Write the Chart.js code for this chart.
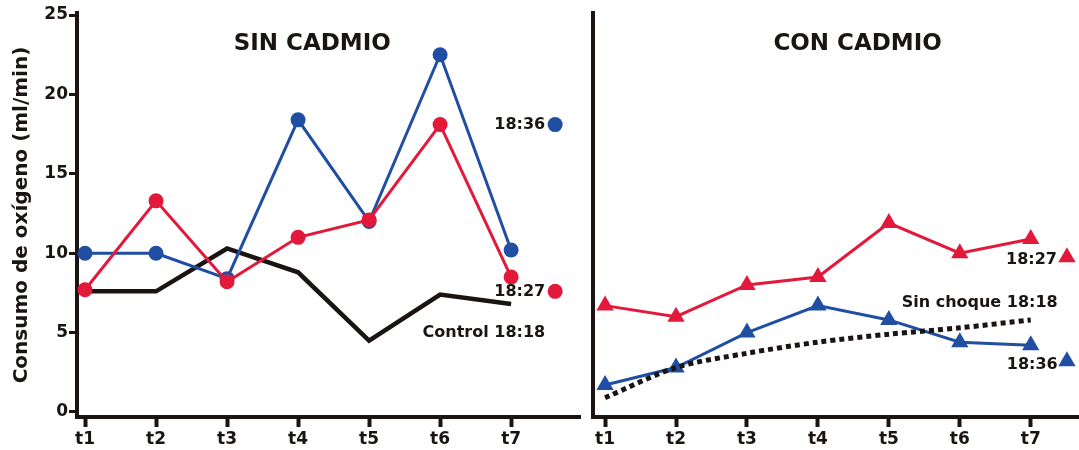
<!DOCTYPE html>
<html>
<head>
<meta charset="utf-8">
<script src="https://cdn.jsdelivr.net/npm/chart.js@4.4.1/dist/chart.umd.min.js"></script>
<style>
  html, body { margin: 0; padding: 0; background: #fff; overflow: hidden; }
  #wrap { position: relative; width: 1079px; height: 450px; overflow: hidden; }
  #izq { position: absolute; left: 0; top: 0; }
  #der { position: absolute; left: 560px; top: 0; }
</style>
</head>
<body>
<div id="wrap">
  <canvas id="izq" width="590" height="450"></canvas>
  <canvas id="der" width="529" height="450"></canvas>
</div>
<script>
// datos
const tiempos = ["t1", "t2", "t3", "t4", "t5", "t6", "t7"];
const yTicks = [0, 5, 10, 15, 20, 25];

// SIN CADMIO
const sinAzul = [10, 10, 8.4, 18.4, 12.0, 22.5, 10.2];   // 18:36
const sinRojo = [7.7, 13.3, 8.2, 11.0, 12.1, 18.1, 8.5]; // 18:27
const control = [7.6, 7.6, 10.3, 8.8, 4.5, 7.4, 6.8];    // Control 18:18

// CON CADMIO
const conRojo = [6.7, 6.0, 8.0, 8.5, 11.9, 10.0, 10.9];  // 18:27
const conAzul = [1.7, 2.8, 5.0, 6.7, 5.8, 4.4, 4.2];     // 18:36
const sinChoque = [0.9, 2.8, 3.7, 4.4, 4.9, 5.3, 5.8];   // Sin choque 18:18

const AZUL = "#1f4ea3";
const ROJO = "#e3193b";
const NEGRO = "#1a1512";
const FUENTE = "'DejaVu Sans', Verdana, sans-serif";

function puntos(arr) {
  return arr.map((v, i) => ({ x: i + 1, y: v }));
}

// plugin simple para los textos dentro del grafico
const notas = {
  id: "notas",
  afterDatasetsDraw(chart, args, opts) {
    const ctx = chart.ctx;
    const sx = chart.scales.x, sy = chart.scales.y;
    ctx.save();
    (opts.items || []).forEach((it) => {
      ctx.font = "bold " + it.size + "px " + FUENTE;
      ctx.fillStyle = NEGRO;
      ctx.textAlign = it.align || "center";
      ctx.textBaseline = "middle";
      ctx.fillText(it.text, sx.getPixelForValue(it.x), sy.getPixelForValue(it.y));
    });
    ctx.restore();
  },
};

function escalas(conEjeY) {
  return {
    x: {
      type: "linear",
      min: conEjeY ? 0.887 : 0.83,
      max: conEjeY ? 7.97 : 7.68,
      afterBuildTicks: (s) => { s.ticks = tiempos.map((t, i) => ({ value: i + 1 })); },
      afterFit: (s) => { s.height = 33; },
      ticks: {
        callback: (v) => tiempos[v - 1],
        color: NEGRO,
        font: { family: FUENTE, size: 17, weight: "bold" },
        padding: 2,
        maxRotation: 0,
      },
      grid: { display: true, drawOnChartArea: false, drawTicks: true, tickLength: 10, tickWidth: 4, tickColor: NEGRO },
      border: { display: true, width: 4, color: NEGRO },
    },
    y: {
      min: -0.315,
      max: 25.13,
      afterBuildTicks: (s) => { s.ticks = conEjeY ? yTicks.map((v) => ({ value: v })) : []; },
      afterFit: (s) => { s.width = conEjeY ? 77 : 33; },
      title: {
        display: conEjeY,
        text: "Consumo de oxígeno (ml/min)",
        color: NEGRO,
        font: { family: FUENTE, size: 20, weight: "bold" },
        padding: { top: 10, bottom: 0 },
      },
      ticks: {
        display: conEjeY,
        color: NEGRO,
        font: { family: FUENTE, size: 17, weight: "bold" },
        padding: 1,
      },
      grid: { display: conEjeY, drawOnChartArea: false, drawTicks: true, tickLength: 8, tickWidth: 3, tickColor: NEGRO },
      border: { display: true, width: 4, color: NEGRO },
    },
  };
}

const basePlugins = {
  legend: { display: false },
  tooltip: { enabled: false },
};

// el primer dataset se dibuja encima
new Chart(document.getElementById("izq"), {
  type: "line",
  data: {
    datasets: [
      { data: puntos(sinRojo), borderColor: ROJO, backgroundColor: ROJO, borderWidth: 3, pointRadius: 7.5, pointBorderWidth: 0 },
      { data: puntos(sinAzul), borderColor: AZUL, backgroundColor: AZUL, borderWidth: 3, pointRadius: 7.5, pointBorderWidth: 0 },
      { data: puntos(control), borderColor: NEGRO, borderWidth: 4.5, pointRadius: 0, tension: 0 },
      // marcadores de la leyenda
      { data: [{ x: 7.62, y: 18.1 }], backgroundColor: AZUL, pointRadius: 7.5, pointBorderWidth: 0, showLine: false },
      { data: [{ x: 7.62, y: 7.6 }], backgroundColor: ROJO, pointRadius: 7.5, pointBorderWidth: 0, showLine: false },
    ],
  },
  options: {
    responsive: false,
    animation: false,
    layout: { padding: { top: 13, right: 10, left: 0, bottom: 0 } },
    scales: escalas(true),
    plugins: {
      ...basePlugins,
      notas: {
        items: [
          { text: "SIN CADMIO", x: 4.2, y: 23.2, size: 23 },
          { text: "18:36", x: 7.48, y: 18.1, size: 16, align: "right" },
          { text: "18:27", x: 7.48, y: 7.55, size: 16, align: "right" },
          { text: "Control 18:18", x: 7.48, y: 4.97, size: 16, align: "right" },
        ],
      },
    },
  },
  plugins: [notas],
});

new Chart(document.getElementById("der"), {
  type: "line",
  data: {
    datasets: [
      { data: puntos(sinChoque), borderColor: NEGRO, borderWidth: 5, borderDash: [5, 4], pointRadius: 0, tension: 0.3 },
      { data: puntos(conRojo), borderColor: ROJO, backgroundColor: ROJO, borderWidth: 3, pointStyle: "triangle", pointRadius: 10, pointBorderWidth: 0 },
      { data: puntos(conAzul), borderColor: AZUL, backgroundColor: AZUL, borderWidth: 3, pointStyle: "triangle", pointRadius: 10, pointBorderWidth: 0 },
      { data: [{ x: 7.51, y: 9.75 }], backgroundColor: ROJO, pointStyle: "triangle", pointRadius: 10, pointBorderWidth: 0, showLine: false, clip: false },
      { data: [{ x: 7.51, y: 3.2 }], backgroundColor: AZUL, pointStyle: "triangle", pointRadius: 10, pointBorderWidth: 0, showLine: false, clip: false },
    ],
  },
  options: {
    responsive: false,
    animation: false,
    layout: { padding: { top: 13, right: 0, left: 0, bottom: 0 } },
    scales: escalas(false),
    plugins: {
      ...basePlugins,
      notas: {
        items: [
          { text: "CON CADMIO", x: 4.56, y: 23.2, size: 23 },
          { text: "18:27", x: 7.37, y: 9.6, size: 16, align: "right" },
          { text: "Sin choque 18:18", x: 7.38, y: 6.9, size: 16, align: "right" },
          { text: "18:36", x: 7.38, y: 3.0, size: 16, align: "right" },
        ],
      },
    },
  },
  plugins: [notas],
});
</script>
</body>
</html>
